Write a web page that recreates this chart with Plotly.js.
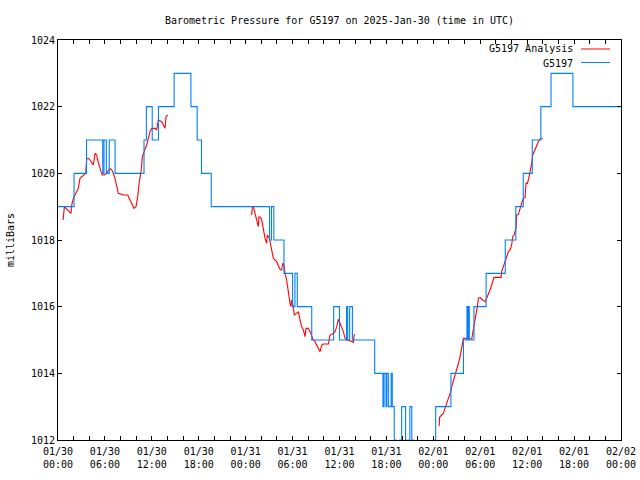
<!DOCTYPE html>
<html>
<head>
<meta charset="utf-8">
<script src="https://cdn.plot.ly/plotly-3.0.1.min.js"></script>
<style>html,body{margin:0;padding:0;background:#fff;}#chart{width:640px;height:480px;}</style>
</head>
<body>
<div id="chart"></div>
<script>
// Hours since 2025-01-30 00:00 UTC
// G5197 Analysis (red) - three segments, gaps marked with null
const analysisHours = [
  0.65, 0.75, 0.82, 1.66, 1.75, 1.96, 2.17, 2.39, 2.6, 2.81,
  3.03, 3.24, 3.54, 3.67, 3.9, 4.09, 4.52, 4.73, 4.95, 5.07,
  5.29, 5.5, 5.67, 5.93, 6.22, 6.44, 6.65, 6.86, 7.08, 7.29,
  7.5, 7.72, 8.36, 8.91, 9.21, 9.42, 9.72, 9.98, 10.19, 10.4,
  10.62, 10.79, 11.04, 11.34, 11.55, 11.77, 11.98, 12.41, 12.62, 12.83,
  13.26, 13.69, 13.82, 14.03,
  19.0,
  24.77, 24.85, 24.98, 25.19, 25.41, 25.62, 25.7, 25.92, 26.05, 26.26,
  26.48, 26.69, 26.77, 27.03, 27.2, 27.37, 27.54, 27.75, 27.97, 28.18,
  28.39, 28.61, 28.73, 28.9, 29.03, 29.24, 29.37, 29.54, 29.67, 29.8,
  29.88, 30.01, 30.1, 30.22, 30.52, 30.74, 30.95, 31.16, 31.38, 31.59,
  31.72, 32.02, 32.23, 32.44, 32.65, 32.87, 33.08, 33.29, 33.51, 33.72,
  33.94, 34.58, 34.79, 35.22, 35.43, 35.64, 35.85, 36.07, 36.28, 36.49,
  36.71, 36.92, 37.35, 37.77, 37.9,
  43.0,
  48.75, 48.8, 49.07, 49.28, 49.49, 49.71, 49.92, 50.05, 50.22, 50.35,
  50.48, 50.65, 50.77, 50.9, 51.07, 51.2, 51.33, 51.5, 51.63, 51.75,
  51.84, 52.05, 52.48, 52.91, 53.03, 53.2, 53.33, 53.55, 53.63, 53.76,
  53.97, 54.31, 54.61, 54.82, 55.03, 55.25, 55.46, 55.68, 55.76, 56.1,
  56.66, 56.74, 56.95, 57.17, 57.38, 57.6, 57.81, 58.02, 58.15, 58.32,
  58.57, 58.66, 58.87, 59.0, 59.17, 59.3, 59.51, 59.73, 59.85, 60.02,
  60.15, 60.28, 60.45, 60.58, 60.71, 60.88, 61.0, 61.22, 61.43, 61.65,
  61.86, 61.99
];
const analysisMb = [
  1018.6, 1018.85, 1019.0, 1018.8, 1019.05, 1019.25, 1019.35, 1019.45, 1019.55, 1019.85,
  1019.9, 1019.95, 1020.0, 1020.43, 1020.45, 1020.4, 1020.25, 1020.6, 1020.55, 1020.4,
  1020.2, 1020.05, 1019.95, 1019.95, 1020.0, 1020.1, 1020.15, 1020.1, 1020.0, 1019.85,
  1019.6, 1019.4, 1019.35, 1019.35, 1019.2, 1019.1, 1018.95, 1019.0, 1019.3, 1019.75,
  1020.05, 1020.5, 1020.65, 1020.85, 1021.05, 1021.25, 1021.35, 1021.35, 1021.3, 1021.6,
  1021.55, 1021.35, 1021.7, 1021.75,
  null,
  1018.75, 1019.0, 1019.0, 1018.8, 1018.6, 1018.4, 1018.7, 1018.68, 1018.6, 1018.3,
  1018.05, 1017.9, 1018.15, 1018.05, 1017.85, 1017.65, 1017.45, 1017.4, 1017.35, 1017.22,
  1017.12, 1017.1, 1017.3, 1017.25, 1017.0, 1016.8, 1016.55, 1016.35, 1016.1, 1016.0,
  1016.2, 1016.1, 1015.95, 1015.75, 1015.8, 1015.85, 1015.6, 1015.4, 1015.3, 1015.1,
  1015.35, 1015.35, 1015.25, 1015.1, 1015.0, 1014.95, 1014.85, 1014.75, 1014.65, 1014.85,
  1014.88, 1014.88, 1015.15, 1015.2, 1015.25, 1015.4, 1015.62, 1015.5, 1015.4, 1015.25,
  1015.05, 1015.0, 1014.98, 1014.93, 1015.18,
  null,
  1012.42, 1012.68, 1012.75, 1012.8, 1012.95, 1013.1, 1013.2, 1013.3, 1013.45, 1013.6,
  1013.7, 1013.82, 1013.95, 1014.05, 1014.2, 1014.3, 1014.4, 1014.6, 1014.8, 1015.0,
  1015.05, 1015.05, 1015.05, 1015.03, 1015.2, 1015.4, 1015.6, 1015.8, 1016.0, 1016.25,
  1016.28, 1016.2, 1016.15, 1016.25, 1016.35, 1016.5, 1016.65, 1016.8, 1016.88, 1016.88,
  1016.88, 1017.05, 1017.2, 1017.3, 1017.5, 1017.65, 1017.7, 1017.85, 1018.1, 1018.15,
  1018.35, 1018.75, 1018.77, 1018.9, 1019.0, 1019.1, 1019.25, 1019.27, 1019.7, 1019.7,
  1019.8, 1019.95, 1020.1, 1020.3, 1020.55, 1020.65, 1020.75, 1020.85, 1020.95, 1021.03,
  1021.05, 1021.05
];

// G5197 observed (blue) - value changes (held until next change)
const stationHours = [
  0, 2.05, 3.65, 5.72, 5.88, 6.18, 6.55, 7.3, 11.0, 11.3,
  12.05, 12.85, 14.85, 17.0, 17.8, 18.35, 19.6, 27.05, 27.3, 27.6,
  28.9, 30.0, 30.3, 30.6, 32.45, 35.25, 36.0, 36.9, 37.05, 37.3,
  37.65, 40.5, 41.55, 41.7, 41.95, 42.05, 42.25, 42.6, 42.75, 43.0,
  43.25, 43.7, 43.8, 43.95, 44.45, 44.6, 44.85, 45.0, 45.25, 45.4,
  48.1, 48.3, 50.25, 51.85, 52.3, 52.4, 52.5, 52.6, 53.2, 54.75,
  57.2, 58.55, 59.5, 60.65, 61.75, 63.05, 65.85, 72
];
const stationMb = [
  1019, 1020, 1021, 1020, 1021, 1020, 1021, 1020, 1021, 1022,
  1021, 1022, 1023, 1022, 1021, 1020, 1019, 1018, 1019, 1018,
  1017, 1016, 1017, 1016, 1015, 1016, 1015, 1016, 1015, 1016,
  1015, 1014, 1013, 1014, 1013, 1014, 1013, 1014, 1013, 1012,
  1011, 1012, 1011, 1013, 1012, 1011, 1012, 1013, 1012, 1011,
  1012, 1013, 1014, 1015, 1016, 1015, 1016, 1015, 1016, 1017,
  1018, 1019, 1020, 1021, 1022, 1023, 1022, 1022
];

const xTickVals = [0, 6, 12, 18, 24, 30, 36, 42, 48, 54, 60, 66, 72];
const xTickText = [
  '01/30<br>00:00', '01/30<br>06:00', '01/30<br>12:00', '01/30<br>18:00',
  '01/31<br>00:00', '01/31<br>06:00', '01/31<br>12:00', '01/31<br>18:00',
  '02/01<br>00:00', '02/01<br>06:00', '02/01<br>12:00', '02/01<br>18:00',
  '02/02<br>00:00'
];
const seriesNames = ['G5197 Analysis', 'G5197'];
const seriesColors = ['#ff0000', '#0080ff'];

const FONT = 'DejaVu Sans Mono, monospace';

const traces = [
  {
    x: analysisHours, y: analysisMb, name: seriesNames[0], type: 'scatter', mode: 'lines',
    line: {color: seriesColors[0], width: 1.1}, connectgaps: false
  },
  {
    x: stationHours, y: stationMb, name: seriesNames[1], type: 'scatter', mode: 'lines',
    line: {color: seriesColors[1], width: 1.1, shape: 'hv'}
  }
];

const axisCommon = {
  showline: true, linecolor: '#000', linewidth: 1, mirror: 'ticks',
  ticks: 'inside', ticklen: 4, tickcolor: '#000', tickwidth: 1,
  showgrid: false, zeroline: false,
  tickfont: {family: FONT, size: 10, color: '#000'}
};

const layout = {
  width: 640, height: 480,
  paper_bgcolor: '#fff', plot_bgcolor: '#fff',
  margin: {l: 58, r: 19, t: 40, b: 40},
  showlegend: false,
  font: {family: FONT, size: 10, color: '#000'},
  title: {
    text: 'Barometric Pressure for G5197 on 2025-Jan-30 (time in UTC)',
    font: {family: FONT, size: 10, color: '#000'},
    x: 0.5, xref: 'paper', y: 1 - 20/480, yanchor: 'middle'
  },
  xaxis: Object.assign({}, axisCommon, {
    range: [0, 72], tickmode: 'array', tickvals: xTickVals, ticktext: xTickText,
    ticklabelstandoff: 2,
    minor: {tickmode: 'linear', tick0: 0, dtick: 2, ticks: 'inside', ticklen: 4, tickcolor: '#000', tickwidth: 1, showgrid: false}
  }),
  yaxis: Object.assign({}, axisCommon, {
    range: [1012, 1024], tickmode: 'linear', tick0: 1012, dtick: 2,
    title: {text: 'milliBars', font: {family: FONT, size: 10, color: '#000'}, standoff: 14}
  }),
  annotations: [
    {xref: 'paper', yref: 'paper', x: 0.918, y: 0.98, xanchor: 'right', yanchor: 'middle',
     text: seriesNames[0], showarrow: false, font: {family: FONT, size: 10, color: '#000'}},
    {xref: 'paper', yref: 'paper', x: 0.918, y: 0.9425, xanchor: 'right', yanchor: 'middle',
     text: seriesNames[1], showarrow: false, font: {family: FONT, size: 10, color: '#000'}}
  ],
  shapes: [
    {type: 'line', xref: 'paper', yref: 'paper', x0: 0.929, x1: 0.9805, y0: 0.9775, y1: 0.9775,
     line: {color: seriesColors[0], width: 1}},
    {type: 'line', xref: 'paper', yref: 'paper', x0: 0.929, x1: 0.9805, y0: 0.9438, y1: 0.9438,
     line: {color: seriesColors[1], width: 1}}
  ]
};

Plotly.newPlot('chart', traces, layout, {staticPlot: true, displayModeBar: false});
</script>
</body>
</html>
